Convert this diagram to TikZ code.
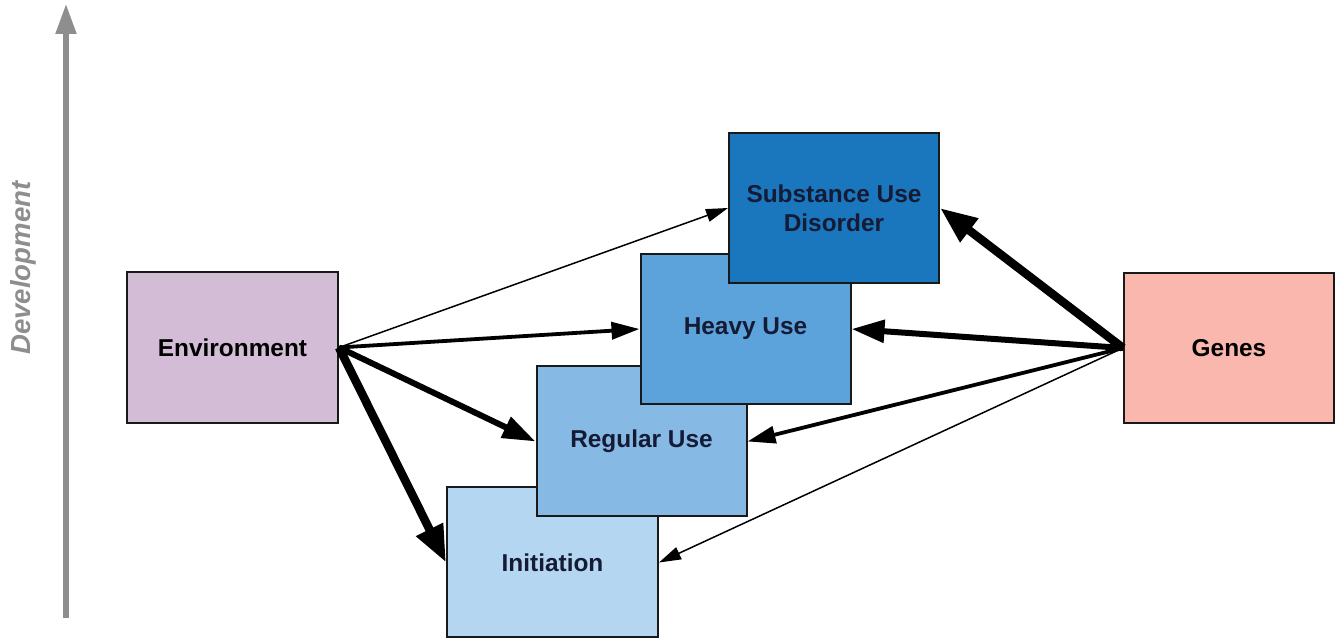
\documentclass[tikz,border=0pt]{standalone}
\usepackage{fontspec}
\setmainfont{Liberation Sans}
\usetikzlibrary{arrows.meta}
\definecolor{envc}{HTML}{D3BDD6}
\definecolor{genc}{HTML}{F9B7AD}
\definecolor{sudc}{HTML}{1B77BD}
\definecolor{heavyc}{HTML}{5CA3DC}
\definecolor{regc}{HTML}{86B9E3}
\definecolor{initc}{HTML}{B4D6F1}
\definecolor{navy}{HTML}{151A35}
\definecolor{devgray}{HTML}{8E8E8E}
\tikzset{
  box/.style={draw=black!90, line width=1pt, rectangle, minimum width=105pt, minimum height=75pt,
    font=\fontsize{12.2}{14.5}\selectfont\bfseries, align=center, inner sep=0pt},
  wthin/.style={line width=0.75pt, -{Triangle[length=11pt,width=6.5pt]}},
  wmed/.style={line width=1.9pt, -{Triangle[length=14pt,width=8.5pt]}},
  wthick/.style={line width=3pt, -{Triangle[length=16.5pt,width=11pt]}},
  wheavy/.style={line width=4.25pt, -{Triangle[length=18.5pt,width=14pt]}},
}
\begin{document}
\begin{tikzpicture}[x=0.5pt,y=-0.5pt]
\useasboundingbox (0,0) rectangle (1341,641);
% development axis
\coordinate (devbot) at (66,618);
\coordinate (devtop) at (66,4);
\draw[devgray, line width=2.6pt, -{Triangle[length=15pt,width=10pt]}] (devbot) -- (devtop);
\node[rotate=90, text=devgray, font=\fontsize{13.8}{16}\selectfont\bfseries\itshape] (dev) at (23,268) {Development};
% boxes
\node[box, fill=envc, minimum width=105.5pt, minimum height=75.5pt] (env) at (232.5,347.5) {Environment};
\node[box, fill=genc] (genes) at (1229,348) {Genes};
\node[box, fill=initc, text=navy, minimum width=105.5pt] (init) at (552.5,562.5) {Initiation};
\node[box, fill=regc, text=navy] (reg) at (641.5,441.5) {Regular Use};
\node[box, fill=heavyc, text=navy] (heavy) at (745.5,329) {Heavy Use};
\node[box, fill=sudc, text=navy] (sud) at (834,208) {Substance Use\\Disorder};
% environment arrows
\draw[wthin] (env.east) -- (sud.west);
\draw[wmed] (env.east) -- (heavy.west);
\draw[wthick] (env.east) -- (reg.west);
\draw[wheavy] (env.east) -- (init.west);
% genes arrows
\draw[wheavy] (genes.west) -- (sud.east);
\draw[wthick] (genes.west) -- (heavy.east);
\draw[wmed] (genes.west) -- (reg.east);
\draw[wthin] (genes.west) -- (init.east);
\end{tikzpicture}
\end{document}
